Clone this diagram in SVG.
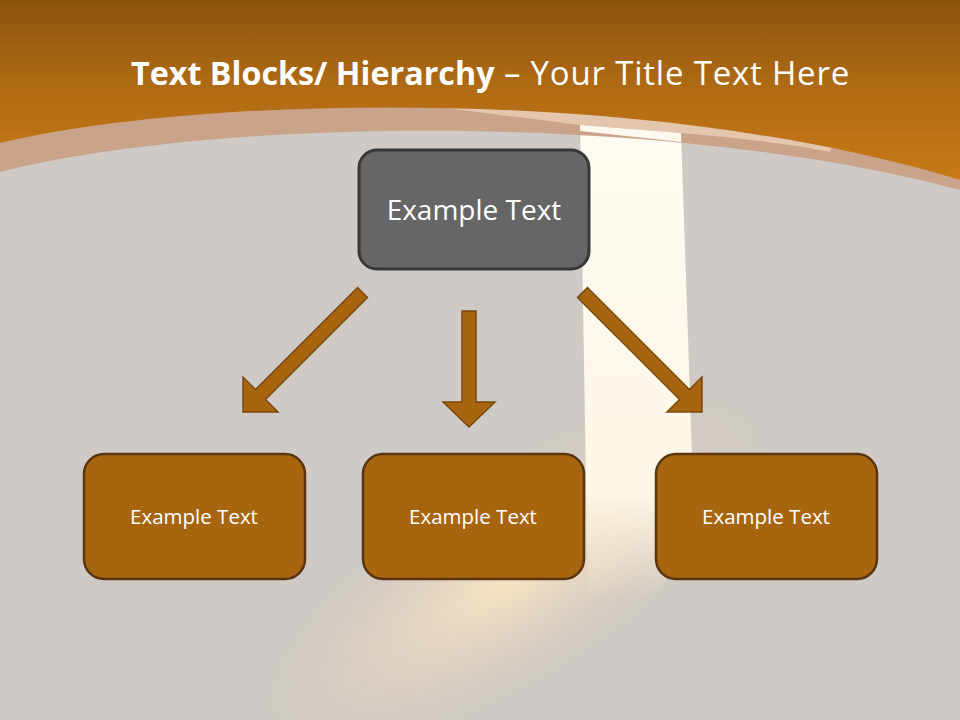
<svg xmlns="http://www.w3.org/2000/svg" width="960" height="720" viewBox="0 0 960 720">
  <defs>
    <linearGradient id="orange" x1="0" y1="0" x2="0" y2="185" gradientUnits="userSpaceOnUse">
      <stop offset="0" stop-color="#8b530f"/>
      <stop offset="0.45" stop-color="#ae6a14"/>
      <stop offset="1" stop-color="#c97a17"/>
    </linearGradient>
    <linearGradient id="beam" x1="0" y1="120" x2="0" y2="600" gradientUnits="userSpaceOnUse">
      <stop offset="0" stop-color="#fefbf2"/>
      <stop offset="0.78" stop-color="#fdf7e6"/>
      <stop offset="1" stop-color="#f8ecd2" stop-opacity="0"/>
    </linearGradient>
    <radialGradient id="glow" cx="0" cy="0" r="1" gradientUnits="userSpaceOnUse" gradientTransform="translate(515 575) rotate(-32) scale(300 110)">
      <stop offset="0" stop-color="#fbe8c3" stop-opacity="0.9"/>
      <stop offset="0.45" stop-color="#f1dcc0" stop-opacity="0.5"/>
      <stop offset="1" stop-color="#d8cbc0" stop-opacity="0"/>
    </radialGradient>
    <style>
      .top { fill: #666666; stroke: #383838; stroke-width: 3; }
      .child { fill: #a8650f; stroke: #5a3510; stroke-width: 2.5; }
      .arrow { fill: #a8650f; stroke: #7a480c; stroke-width: 1.5; stroke-linejoin: miter; }
      .lbl { font-family: "Open Sans", Lato, "Liberation Sans", sans-serif; fill: #ffffff; text-anchor: middle; }
      .title { font-family: "Open Sans", Lato, "Liberation Sans", sans-serif; fill: #ffffff; font-size: 32px; }
    </style>
  </defs>

  <!-- background -->
  <rect x="0" y="0" width="960" height="720" fill="#cfcac5"/>
  <rect x="0" y="400" width="960" height="320" fill="url(#glow)"/>
  <path d="M580,124 L681,132 L692,455 L700,540 L650,600 L588,600 Z" fill="url(#beam)"/>
  <path d="M0,0 H960 V190 C650,108 200,120 0,172 Z" fill="#c9a48b"/>
  <path d="M438,107 L580,125 L681,133 C740,138 790,144 830,152 L860,60 L438,60 Z" fill="#e4c6ae"/>
  <path d="M580,125 L681,133 L681.3,142 L580.2,131 Z" fill="#fdf9ef"/>
  <path d="M0,0 H960 V180 C650,85 200,95 0,143 Z" fill="url(#orange)"/>

  <text class="title" x="131" y="85"><tspan font-weight="bold" font-size="32.3">Text Blocks/ Hierarchy</tspan><tspan font-size="33" letter-spacing="0.8"> – Your Title Text Here</tspan></text>

  <g id="connectors">
    <polygon class="arrow" points="243,412 278,412 265.45,399.45 367.45,297.45 357.55,287.55 255.55,389.55 243,377"/>
    <polygon class="arrow" points="462,311 476,311 476,402 495,402 469,427 443,402 462,402"/>
    <polygon class="arrow" points="702,412 667,412 679.55,399.45 577.55,297.45 587.45,287.55 689.45,389.55 702,377"/>
  </g>

  <g id="node-top">
    <rect class="top" x="359" y="150" width="230" height="119" rx="18"/>
    <text class="lbl" x="474" y="220" font-size="28">Example Text</text>
  </g>
  <g id="node-left">
    <rect class="child" x="84" y="454" width="221" height="125" rx="20"/>
    <text class="lbl" x="194" y="524" font-size="20.5">Example Text</text>
  </g>
  <g id="node-middle">
    <rect class="child" x="363" y="454" width="221" height="125" rx="20"/>
    <text class="lbl" x="473" y="524" font-size="20.5">Example Text</text>
  </g>
  <g id="node-right">
    <rect class="child" x="656" y="454" width="221" height="125" rx="20"/>
    <text class="lbl" x="766" y="524" font-size="20.5">Example Text</text>
  </g>
</svg>
